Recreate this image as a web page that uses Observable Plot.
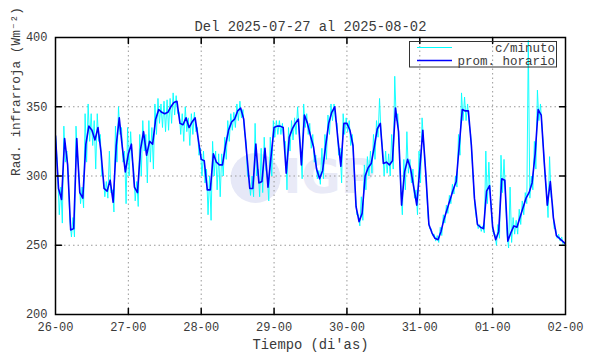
<!DOCTYPE html>
<html><head><meta charset="utf-8">
<script src="https://cdn.jsdelivr.net/npm/d3@7"></script>
<script src="https://cdn.jsdelivr.net/npm/@observablehq/plot@0.6"></script>
<style>body{margin:0;background:#fff}</style>
</head><body><div id="chart"></div>
<script>
const title = "Del 2025-07-27 al 2025-08-02";
const xLabel = "Tiempo (di'as)";
const yLabel = "Rad. infrarroja (Wm⁻²)";
const legendLabels = ["c/minuto", "prom. horario"];
const xTickHours = [0, 24, 48, 72, 96, 120, 144, 168];
const xTickLabels = ["26-00", "27-00", "28-00", "29-00", "30-00", "31-00", "01-00", "02-00"];
const yTicks = [200, 250, 300, 350, 400];

// hourly average (one value per hour, hour 0 .. 168)
const hourly = [329,291,283,327,308,261,262,327,288,284, 323,336,333,326,335,317,291,289,297,281,
  322,342,321,303,316,323,292,288,319,332, 315,325,323,341,348,346,345,346,350,353,
  354,338,337,342,335,339,342,327,312,311, 290,290,316,310,308,308,322,333,339,341,
  347,349,341,316,291,291,323,295,296,320, 292,314,335,336,336,335,302,328,334,338,
  341,308,344,338,329,321,305,298,304,322, 338,346,350,327,307,338,338,333,322,278,
  267,273,300,306,309,321,334,338,309,310, 308,311,349,332,279,303,312,305,292,279,
  305,333,301,265,259,255,254,260,269,276, 283,290,296,322,348,347,347,322,284,265,
  263,262,289,293,263,254,260,298,297,253, 259,264,263,270,277,284,288,295,316,348,
  344,310,279,296,270,257,255,253,251];

// per-minute data, summarised per hour as low / high excursions
const minuteLo = [322,272,266,310,295,256,256,315,280,277, 310,325,322,305,325,300,285,284,288,274,
  310,330,310,280,300,312,282,278,300,318, 295,310,305,330,338,335,332,333,338,344,
  345,330,325,332,322,330,332,315,300,295, 272,268,300,290,285,300,312,325,333,335,
  340,342,332,300,286,285,300,285,288,305, 282,300,328,330,330,325,290,318,326,330,
  333,298,335,330,320,310,298,294,298,312, 330,340,340,315,295,330,332,322,310,272,
  264,268,290,300,302,312,328,330,300,302, 300,305,340,320,272,290,302,295,284,272,
  295,325,290,262,257,253,252,257,266,273, 280,287,292,315,340,340,338,312,276,262,
  260,259,280,285,258,250,255,288,285,248, 252,258,258,265,272,280,284,290,305,340,
  336,300,270,285,262,255,253,250];
const minuteHi = [336,300,292,336,318,268,270,336,300,292, 345,352,345,340,345,330,300,296,318,290,
  336,350,335,318,335,332,305,296,330,340, 330,340,335,352,356,352,354,355,356,360,
  358,346,345,350,342,345,346,335,320,318, 305,300,325,318,316,316,328,340,345,346,
  352,354,348,325,298,300,338,305,320,328, 300,328,340,340,340,338,325,335,340,342,
  350,320,352,345,338,330,315,304,320,330, 344,352,352,338,320,345,342,340,330,290,
  272,285,308,314,318,330,340,356,320,318, 316,330,372,345,290,312,332,312,305,290,
  318,342,310,270,262,258,257,263,272,279, 286,294,300,330,360,357,352,330,292,268,
  265,264,318,310,270,258,265,315,312,258, 292,270,268,276,282,288,398,300,325,362,
  352,320,290,314,280,262,258,256];

const hourlyData = hourly.map((v, i) => ({h: i, v}));
const minuteData = minuteHi.flatMap((hi, i) => [{h: i - 0.25, v: hi}, {h: i + 0.25, v: minuteLo[i]}]);

const tickShape = {draw(ctx, l) { ctx.moveTo(0, 0); ctx.lineTo(0, -l); }};
const innerX = xTickHours.slice(1, -1);
const innerY = yTicks.slice(1, -1);
const font = "Liberation Mono, DejaVu Sans Mono, monospace";
const textColor = "#3a3a3a";

const plot = Plot.plot({
  width: 590, height: 354,
  marginLeft: 55, marginRight: 25, marginTop: 37, marginBottom: 40,
  x: {domain: [0, 168]},
  y: {domain: [200, 400]},
  style: {fontFamily: font, fontSize: "12px", color: textColor, background: "white"},
  marks: [
    Plot.dot([0], {frameAnchor: "middle", dx: -55, dy: 2, r: 25, fill: "#e6e8f7", stroke: null}),
    Plot.text(["IGP"], {frameAnchor: "middle", dx: -27, dy: 2, textAnchor: "start", fontSize: 48, fontWeight: "bold", fontFamily: "DejaVu Sans", fill: "#e9eaf7"}),
    Plot.gridX(innerX, {stroke: "#999", strokeOpacity: 1, strokeDasharray: "1.5,3"}),
    Plot.gridY(innerY, {stroke: "#999", strokeOpacity: 1, strokeDasharray: "1.5,3"}),
    Plot.line(minuteData, {x: "h", y: "v", stroke: "#00ffff", strokeWidth: 0.9, clip: true}),
    Plot.line(hourlyData, {x: "h", y: "v", stroke: "#0000ff", strokeWidth: 1.6, clip: true}),
    Plot.vector(innerX, {x: d => d, frameAnchor: "bottom", length: 6, rotate: 0, anchor: "start", shape: tickShape, stroke: "black", strokeWidth: 1.5}),
    Plot.vector(innerX, {x: d => d, frameAnchor: "top", length: 6, rotate: 180, anchor: "start", shape: tickShape, stroke: "black", strokeWidth: 1.5}),
    Plot.vector(innerY, {y: d => d, frameAnchor: "left", length: 6, rotate: 90, anchor: "start", shape: tickShape, stroke: "black", strokeWidth: 1.5}),
    Plot.vector(innerY, {y: d => d, frameAnchor: "right", length: 6, rotate: -90, anchor: "start", shape: tickShape, stroke: "black", strokeWidth: 1.5}),
    Plot.frame({stroke: "black", strokeWidth: 1.5}),
    Plot.axisX(xTickHours, {anchor: "bottom", tickSize: 0, tickPadding: 8, label: null, fontSize: 12,
      tickFormat: d => xTickLabels[xTickHours.indexOf(d)]}),
    Plot.axisY(yTicks, {anchor: "left", tickSize: 0, tickPadding: 8, label: null, fontSize: 12, dy: 0}),
    Plot.text([title], {frameAnchor: "top", dy: -16, fontSize: 13.8, fill: textColor}),
    Plot.text([xLabel], {frameAnchor: "bottom", dy: 34, fontSize: 13.8, fill: textColor}),
    Plot.text([yLabel], {frameAnchor: "left", dx: -40, rotate: -90, fontSize: 12.8, fill: textColor})
  ]
});

// legend box
const svg = d3.select(plot);
const lg = svg.append("g").attr("font-family", font).attr("font-size", 12.5).attr("fill", textColor);
lg.append("rect").attr("x", 409.5).attr("y", 41.5).attr("width", 147).attr("height", 25.5)
  .attr("fill", "none").attr("stroke", "#333").attr("stroke-width", 1);
const legendColors = ["#00ffff", "#0000ff"];
legendLabels.forEach((lab, i) => {
  const yy = 47.5 + i * 13;
  lg.append("line").attr("x1", 417).attr("x2", 452).attr("y1", yy).attr("y2", yy)
    .attr("stroke", legendColors[i]).attr("stroke-width", i ? 1.6 : 1);
  lg.append("text").attr("x", 555).attr("y", yy).attr("dy", "0.35em").attr("text-anchor", "end").text(lab);
});

document.getElementById("chart").appendChild(plot);
</script>
</body></html>
